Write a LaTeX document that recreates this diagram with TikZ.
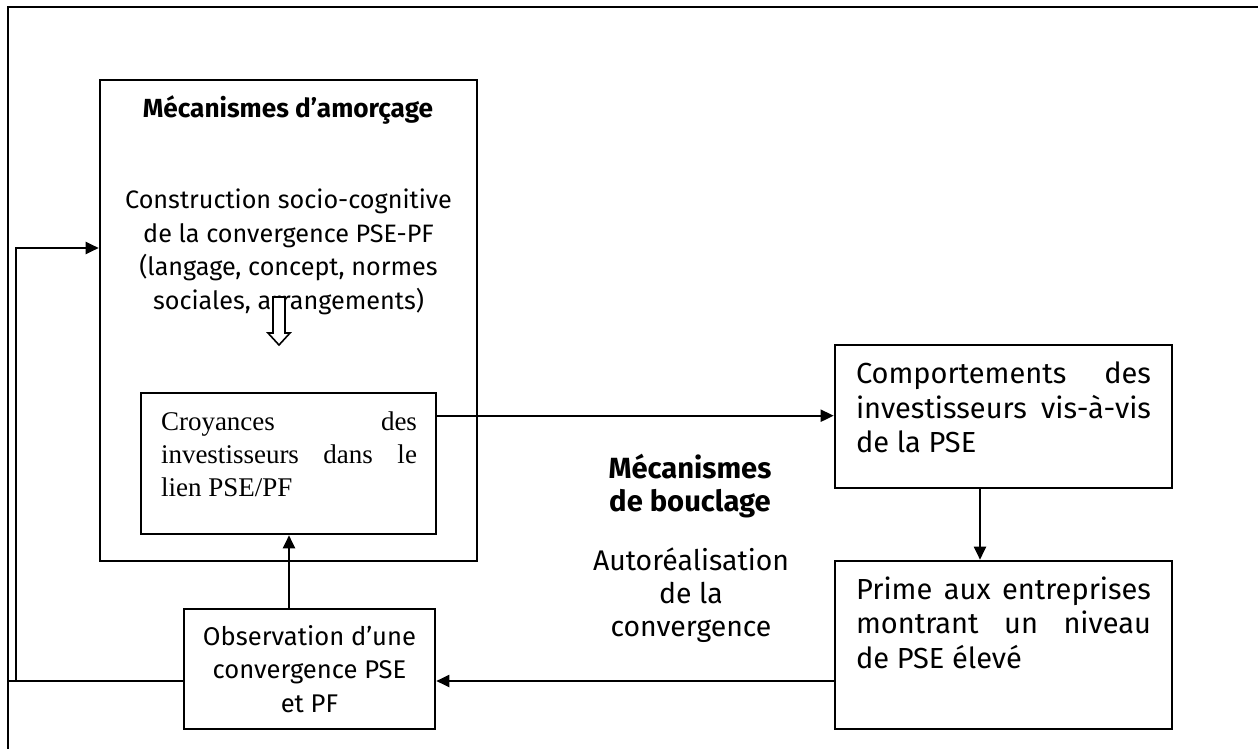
\documentclass[tikz,border=0pt]{standalone}
\usepackage{fontspec}
\setmainfont{Liberation Serif}
\newfontfamily\firasans{Fira Sans}
\usetikzlibrary{arrows.meta}
\hyphenpenalty=10000
\exhyphenpenalty=10000

\begin{document}
\begin{tikzpicture}[x=0.5pt,y=-0.5pt]
    \tikzset{BoxStyle/.style = {draw, line width=1.3pt, inner sep=0pt}}
    \tikzset{TextStyle/.style = {font={\firasans\fontsize{12.6}{16.8}\selectfont}, align=center, inner sep=0pt}}
    \tikzset{TitleStyle/.style = {TextStyle, font={\firasans\bfseries\fontsize{13.1}{16.3}\selectfont}}}
    \tikzset{JustStyle/.style = {TextStyle, font={\firasans\fontsize{14.5}{17.2}\selectfont}, text width=147.5pt, align=justify}}
    \tikzset{ArrowStyle/.style = {line width=1pt, -{Triangle[length=6.5pt,width=6pt]}}}
    \useasboundingbox (0,0) rectangle (1258,749);
    \draw[line width=1.3pt] (8,749) -- (8,7) -- (1258,7);

    \node[BoxStyle, minimum width=188.5pt, minimum height=240.5pt] (amor) at (288.5,320.5) {};
    \node[BoxStyle, minimum width=147.5pt, minimum height=70.5pt] (croy) at (288.5,463.5) {};
    \node[BoxStyle, minimum width=168.5pt, minimum height=71.5pt] (comp) at (1003.5,416.5) {};
    \node[BoxStyle, minimum width=168.5pt, minimum height=84pt] (prime) at (1003.5,645) {};
    \node[BoxStyle, TextStyle, font={\firasans\fontsize{12.8}{16.6}\selectfont}, minimum width=125.5pt, minimum height=60pt]
        (obs) at (309.5,669) {Observation d’une\\convergence PSE\\et PF};

    \node[TitleStyle] (tAmor) at (288,110) {Mécanismes d’amorçage};
    \node[TextStyle] (tConst) at (288.5,252)
        {Construction socio-cognitive\\de la convergence PSE-PF\\(langage, concept, normes\\sociales, arrangements)};
    \node[TitleStyle, font={\firasans\bfseries\fontsize{14.6}{16.3}\selectfont}] (tBoucl) at (690,486) {Mécanismes\\de bouclage};
    \node[TextStyle, font={\firasans\fontsize{14.2}{16.6}\selectfont}] (tAuto) at (691,595) {Autoréalisation\\de la\\convergence};
    \node[JustStyle, font={\rmfamily\fontsize{13.5}{16.5}\selectfont}, text width=128pt] (tCroy) at (289,454.5)
        {Croyances des investisseurs dans le lien PSE/PF};
    \node[JustStyle] (tComp) at (1003.5,407.5)
        {Comportements des\linebreak investisseurs vis-à-vis\linebreak de la PSE};
    \node[JustStyle] (tPrime) at (1003.5,622.5)
        {Prime aux entreprises\linebreak montrant un niveau\linebreak de PSE élevé};

    \draw[line width=0.8pt, fill=white] (273,297) -- (285,297) -- (285,333) -- (290,333)
        -- (279,345) -- (268,333) -- (273,333) -- cycle;

    \coordinate (cA) at ([yshift=-12pt]croy.north east);
    \draw[ArrowStyle] (cA) -- (cA -| comp.west);
    \coordinate (cB) at ([xshift=-11.75pt]comp.south);
    \draw[ArrowStyle] (cB) -- (cB |- prime.north);
    \coordinate (cC) at ([yshift=-18pt]prime.west);
    \draw[ArrowStyle] (cC) -- (cC -| obs.east);
    \coordinate (cD) at ([xshift=-10.25pt]obs.north);
    \draw[ArrowStyle] (cD) -- (cD |- croy.south);
    \coordinate (cE) at ([yshift=-6pt]obs.west);
    \coordinate (bord) at (8,681);
    \draw[line width=1pt] (cE) -- (bord);
    \coordinate (cF) at ([yshift=36.25pt]amor.west);
    \coordinate (retour) at (16,681);
    \draw[ArrowStyle] (retour) |- (cF);
\end{tikzpicture}
\end{document}
